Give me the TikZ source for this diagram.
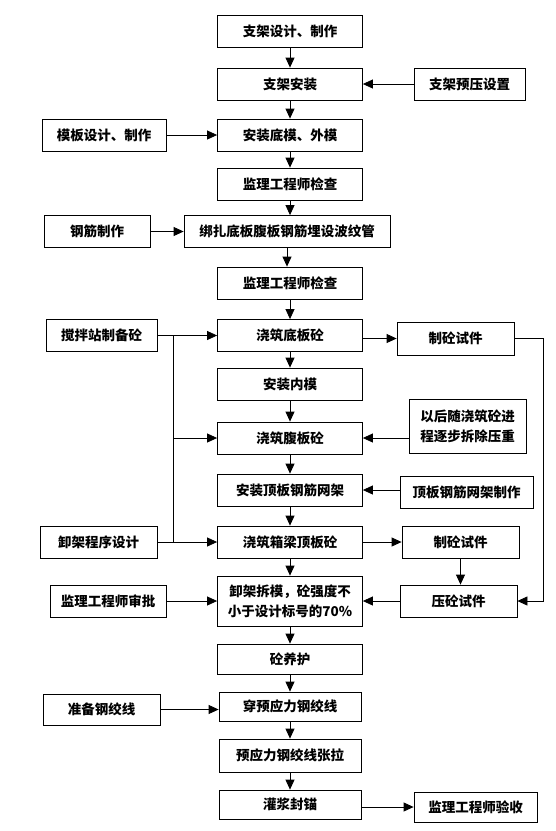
\documentclass[tikz,border=0pt]{standalone}
\usepackage{fontspec}
\newfontfamily\cjk{Noto Sans CJK SC}
\usetikzlibrary{arrows.meta,positioning}

\begin{document}
\begin{tikzpicture}[x=1pt, y=-1pt, node distance=50pt, >={Triangle[length=10pt,width=9pt]}, block/.style={rectangle, draw, line width=0.8pt, minimum width=145pt, minimum height=32pt, inner sep=2pt, align=center, font=\cjk\bfseries\fontsize{13.5}{20}\selectfont}, side/.style={block, minimum width=117pt}, link/.style={->, line width=0.8pt}]

  \useasboundingbox (0,0) rectangle (555,831);

  % main column
  \node[block] (zjsj) at (290,31) {支架设计、制作};
  \node[block, below of=zjsj, node distance=53pt] (zjaz) {支架安装};
  \node[block, below of=zjaz, node distance=51pt] (dm) {安装底模、外模};
  \node[block, below of=dm, node distance=49pt] (jc1) {监理工程师检查};
  \node[block, below of=jc1, node distance=47.5pt, minimum width=206pt, xshift=-3pt] (bz) {绑扎底板腹板钢筋埋设波纹管};
  \node[block, below of=jc1, node distance=99pt] (jc2) {监理工程师检查};
  \node[block, below of=jc2, node distance=52.5pt] (db) {浇筑底板砼};
  \node[block, below of=db, node distance=48.5pt] (nm) {安装内模};
  \node[block, below of=nm, node distance=54pt] (fb) {浇筑腹板砼};
  \node[block, below of=fb, node distance=52pt] (wj) {安装顶板钢筋网架};
  \node[block, below of=wj, node distance=52pt] (xl) {浇筑箱梁顶板砼};
  \node[block, below of=xl, node distance=59pt, minimum height=50pt] (cm) {卸架拆模，砼强度不\\小于设计标号的70\%};
  \node[block, below of=cm, node distance=58pt, minimum height=30pt] (yh) {砼养护};
  \node[block, below of=yh, node distance=47.5pt, minimum height=29pt, minimum width=142pt] (cy) {穿预应力钢绞线};
  \node[block, below of=cy, node distance=49pt, minimum height=33pt, minimum width=142pt] (zl) {预应力钢绞线张拉};
  \node[block, below of=zl, node distance=49pt, minimum height=29pt, minimum width=142pt] (mf) {灌浆封锚};

  % left column
  \node[side, left of=dm, node distance=186pt, minimum width=124pt] (mb) {模板设计、制作};
  \node[side, left of=bz, node distance=190pt, minimum width=106pt] (gj) {钢筋制作};
  \node[side, left of=db, node distance=188.5pt, minimum width=111pt] (jb) {搅拌站制备砼};
  \node[side, left of=xl, node distance=191.5pt] (xjsj) {卸架程序设计};
  \node[side, left of=cm, node distance=182pt, minimum width=116pt] (sp) {监理工程师审批};
  \node[side, left of=cy, node distance=188.5pt, minimum height=31pt, yshift=-3pt] (zb) {准备钢绞线};

  % right column
  \node[side, right of=zjaz, node distance=179.5pt, minimum width=111pt] (yy) {支架预压设置};
  \node[side, right of=db, node distance=165.5pt, minimum height=33pt, yshift=-3pt] (sj1) {制砼试件};
  \node[side, right of=fb, node distance=177.5pt, minimum height=54pt, yshift=12pt] (cz) {以后随浇筑砼进\\程逐步拆除压重};
  \node[side, right of=wj, node distance=176.5pt, minimum width=133pt, yshift=-2.5pt] (wjzz) {顶板钢筋网架制作};
  \node[side, right of=xl, node distance=170.5pt] (sj2) {制砼试件};
  \node[side, right of=cm, node distance=168.5pt] (yj) {压砼试件};
  \node[side, right of=mf, node distance=185.5pt, minimum width=123pt, minimum height=30pt, yshift=-2.5pt] (ys) {监理工程师验收};

  % main flow
  \foreach \a/\b in {zjsj/zjaz, zjaz/dm, dm/jc1, jc1/bz, bz/jc2, jc2/db, db/nm, nm/fb, fb/wj, wj/xl, xl/cm, cm/yh, yh/cy, cy/zl, zl/mf}
    \draw[link] (\a.south) -- (\a.south |- \b.north);

  % inputs
  \draw[link] (yy) -- (zjaz);
  \draw[link] (mb) -- (dm);
  \draw[link] (gj) -- (bz);
  \draw[link] (jb) -- (db);
  \draw[link] (xjsj) -- (xl);
  \draw[link] (sp) -- (cm);
  \draw[link] (zb.east) -- (zb.east -| cy.west);
  \draw[link] (cz.west |- fb) -- (fb);
  \draw[link] (wjzz.west |- wj) -- (wj);

  \path (jb.east) ++(16pt,0) coordinate (trunk);
  \draw[line width=0.8pt] (trunk) -- (trunk |- xl);
  \draw[link] (trunk |- fb) -- (fb);

  % test pieces
  \draw[link] (db.east |- sj1) -- (sj1);
  \draw[link] (xl) -- (sj2);
  \draw[link] (sj2.south) -- (sj2.south |- yj.north);
  \draw[link] (sj1.east) -- ++(29pt,0) |- (yj.east);
  \draw[link] (yj) -- (cm);
  \draw[link] (mf.east |- ys) -- (ys);
\end{tikzpicture}
\end{document}
